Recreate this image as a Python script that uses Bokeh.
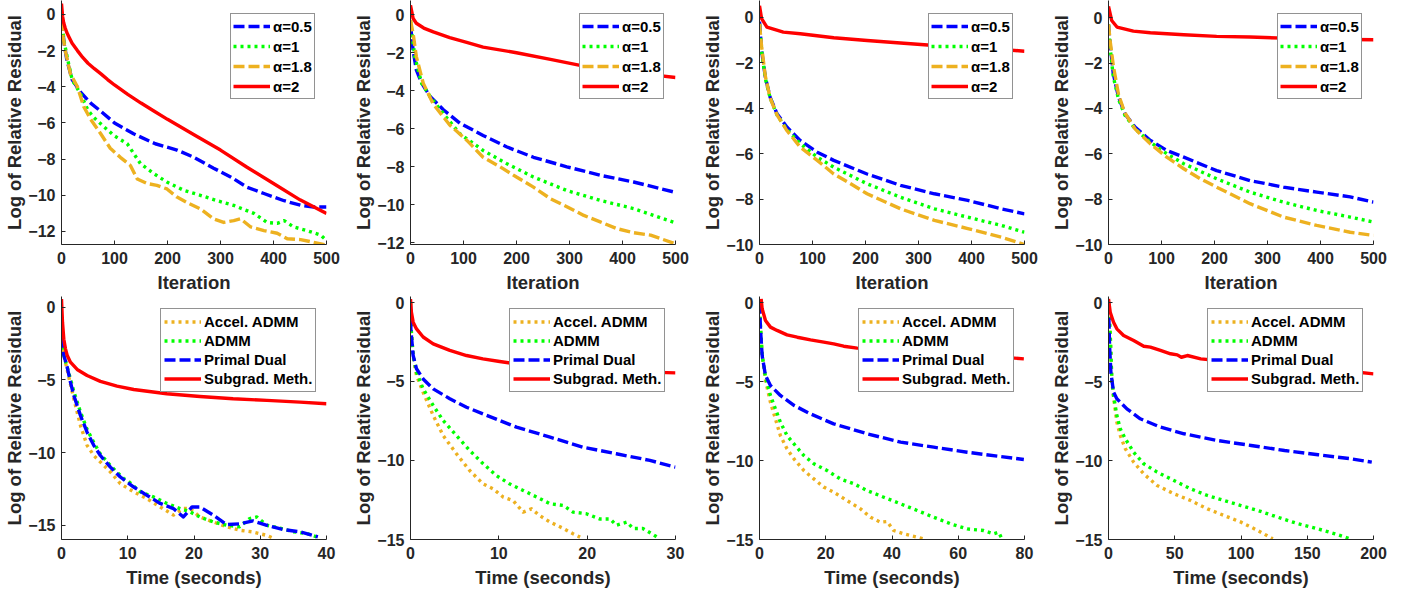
from bokeh.plotting import figure
from bokeh.layouts import column, row
from bokeh.models import Range1d, FixedTicker, Legend, LegendItem
from bokeh.embed import file_html
from bokeh.resources import INLINE

# ---------------- data ----------------
ALPHA_LABELS = ["\u03b1=0.5", "\u03b1=1", "\u03b1=1.8", "\u03b1=2"]
METHOD_LABELS = ["Accel. ADMM", "ADMM", "Primal Dual", "Subgrad. Meth."]

ITER_TICKS = [0, 100, 200, 300, 400, 500]
P1_YTICKS = [0, -2, -4, -6, -8, -10, -12]
P3_YTICKS = [0, -2, -4, -6, -8, -10]
TIME_YTICKS = [0, -5, -10, -15]
P5_XTICKS = [0, 10, 20, 30, 40]
P6_XTICKS = [0, 10, 20, 30]
P7_XTICKS = [0, 20, 40, 60, 80]
P8_XTICKS = [0, 50, 100, 150, 200]

# Panel 1 (iterations)
P1_A05 = [(0, -0.3), (2, -0.8), (5, -1.6), (10, -2.5), (20, -3.6), (36, -4.3), (55, -4.9), (74, -5.35), (100, -6.0),
          (136, -6.6), (177, -7.15), (218, -7.5), (250, -7.9), (287, -8.5), (320, -9.0), (350, -9.55), (382, -9.9),
          (420, -10.3), (451, -10.55), (476, -10.65), (500, -10.65)]
P1_A1 = [(0, -0.3), (1, -0.5), (5, -1.5), (11, -2.4), (20, -3.6), (36, -4.4), (50, -5.3), (61, -5.7), (74, -6.05),
         (99, -6.7), (124, -7.15), (149, -8.25), (174, -8.8), (199, -9.27), (231, -9.73), (262, -10.0), (294, -10.3),
         (325, -10.56), (363, -11.0), (388, -11.5), (407, -11.55), (420, -11.4), (438, -11.75), (463, -11.95),
         (489, -12.2), (500, -12.5)]
P1_A18 = [(0, -0.3), (3, -1.2), (7, -2.0), (17, -3.3), (30, -4.0), (42, -5.1), (55, -5.8), (74, -6.6), (92, -7.4),
          (111, -7.9), (130, -8.35), (143, -9.1), (162, -9.35), (180, -9.45), (199, -9.65), (218, -10.1), (237, -10.4),
          (262, -10.75), (287, -11.3), (306, -11.5), (325, -11.4), (338, -11.3), (357, -11.75), (382, -11.95),
          (407, -12.1), (426, -12.4), (451, -12.45), (476, -12.6), (500, -12.75)]
P1_A2 = [(0, 0.6), (2, -0.1), (4, -0.45), (7, -0.75), (10, -1.0), (15, -1.3), (20, -1.6), (30, -2.0), (40, -2.38),
         (50, -2.7), (62, -3.0), (75, -3.3), (87, -3.6), (100, -3.9), (125, -4.42), (150, -4.9), (175, -5.35),
         (200, -5.8), (250, -6.65), (300, -7.5), (350, -8.45), (400, -9.35), (450, -10.25), (500, -11.0)]

# Panel 2
P2_A05 = [(0, -0.5), (5, -1.9), (11, -2.9), (21, -3.6), (37, -4.3), (62, -5.0), (93, -5.7), (137, -6.35), (182, -6.96),
          (232, -7.5), (295, -8.0), (358, -8.45), (421, -8.8), (500, -9.35)]
P2_A1 = [(0, -0.3), (8, -2.2), (21, -3.6), (37, -4.3), (62, -5.2), (93, -6.26), (137, -7.14), (182, -7.84),
         (232, -8.54), (295, -9.25), (358, -9.77), (421, -10.2), (500, -10.95)]
P2_A18 = [(0, -0.3), (5, -1.0), (11, -2.2), (24, -3.6), (43, -4.7), (74, -5.8), (106, -6.6), (137, -7.5), (169, -8.0),
          (200, -8.54), (232, -9.07), (264, -9.68), (295, -10.1), (327, -10.56), (358, -10.9), (390, -11.26),
          (421, -11.47), (453, -11.6), (500, -12.05)]
P2_A2 = [(0, 0.5), (5, -0.2), (11, -0.45), (25, -0.7), (43, -0.9), (74, -1.2), (106, -1.45), (137, -1.7), (200, -2.0),
         (264, -2.35), (327, -2.7), (390, -2.95), (453, -3.15), (500, -3.3)]

# Panel 3
P3_A05 = [(0, -0.2), (4, -1.47), (11, -2.64), (20, -3.52), (33, -4.25), (52, -4.84), (77, -5.43), (109, -5.94),
          (140, -6.3), (203, -6.9), (266, -7.4), (330, -7.77), (393, -8.06), (456, -8.43), (500, -8.65)]
P3_A1 = [(0, -0.3), (4, -1.5), (11, -2.7), (20, -3.55), (33, -4.3), (52, -4.95), (77, -5.57), (109, -6.16),
         (140, -6.6), (203, -7.33), (266, -7.92), (330, -8.43), (393, -8.8), (456, -9.16), (500, -9.46)]
P3_A18 = [(0, -0.3), (4, -1.3), (11, -2.6), (20, -3.55), (33, -4.3), (52, -5.0), (77, -5.72), (109, -6.3),
          (140, -6.9), (172, -7.33), (203, -7.77), (266, -8.43), (330, -8.94), (393, -9.3), (456, -9.68), (500, -10.0)]
P3_A2 = [(0, 0.5), (4, -0.07), (14, -0.44), (45, -0.66), (77, -0.73), (140, -0.91), (203, -1.03), (266, -1.14),
         (330, -1.25), (393, -1.32), (456, -1.42), (500, -1.5)]

# Panel 4
P4_A05 = [(0, -0.3), (3, -1.15), (9, -2.47), (19, -3.5), (31, -4.24), (50, -4.82), (79, -5.41), (110, -5.85),
          (142, -6.15), (204, -6.74), (267, -7.18), (330, -7.47), (393, -7.69), (456, -7.9), (500, -8.13)]
P4_A1 = [(0, -0.3), (3, -1.3), (9, -2.6), (19, -3.6), (31, -4.3), (50, -4.9), (79, -5.49), (110, -6.0), (142, -6.44),
         (204, -7.1), (267, -7.69), (330, -8.13), (393, -8.5), (456, -8.79), (500, -9.01)]
P4_A18 = [(0, -0.3), (3, -1.0), (9, -2.1), (19, -3.4), (31, -4.2), (50, -4.9), (79, -5.56), (110, -6.15), (142, -6.66),
          (173, -7.1), (204, -7.47), (267, -8.2), (330, -8.79), (393, -9.16), (456, -9.46), (500, -9.6)]
P4_A2 = [(0, 0.5), (6, -0.12), (16, -0.41), (47, -0.59), (79, -0.66), (142, -0.75), (204, -0.82), (267, -0.85),
         (330, -0.9), (393, -0.93), (456, -0.96), (500, -0.97)]

# Panel 5 (time)
P5_ACC = [(0, -0.5), (0.1, -2.4), (0.35, -3.3), (0.85, -4.3), (1.86, -6.3), (2.86, -8.13), (3.86, -9.5), (4.87, -10.2),
          (5.87, -10.65), (7.38, -11.33), (8.88, -12.14), (10.9, -12.7), (12.9, -13.17), (14.9, -13.74),
          (16.9, -14.3), (18.4, -13.85), (19.4, -13.85), (20.9, -14.43), (22.9, -14.77), (24.9, -15.1),
          (26.9, -15.34), (28.9, -15.46), (31, -15.7), (32, -15.9)]
P5_ADMM = [(0, -0.8), (0.1, -2.4), (0.35, -3.3), (0.85, -4.1), (1.86, -5.8), (2.86, -7.2), (3.86, -8.4), (4.87, -9.3),
           (5.87, -10.1), (7.38, -10.9), (9.4, -11.8), (9.9, -11.9), (10.4, -12.1), (11.9, -12.7), (13.9, -13.05),
           (15.9, -13.5), (17.9, -13.85), (19.4, -14.08), (20.9, -14.43), (22.9, -14.77), (24.9, -15.0),
           (26.9, -15.1), (28.4, -14.54), (29.5, -14.43), (31, -15.0), (33, -15.2), (35, -15.45), (37, -15.57),
           (38.5, -15.8)]
P5_PD = [(0, -1.0), (0.1, -2.5), (0.35, -3.3), (0.85, -4.1), (1.35, -5.15), (1.86, -6.07), (2.86, -7.44), (3.86, -8.6),
         (4.87, -9.5), (5.87, -10.2), (7.38, -11.0), (8.88, -11.68), (10.9, -12.37), (12.9, -12.94), (14.9, -13.5),
         (16.9, -13.85), (18.4, -14.43), (19.7, -13.74), (20.9, -13.74), (22.9, -14.3), (24.9, -14.95),
         (26.9, -14.9), (28.9, -14.7), (31, -15.0), (33.5, -15.3), (36, -15.45), (38.7, -15.8)]
P5_SUB = [(0, 0.57), (0.15, -1.03), (0.35, -2.2), (0.6, -2.86), (0.85, -3.3), (1.35, -3.78), (2.36, -4.28),
          (3.86, -4.7), (5.87, -5.1), (8.38, -5.43), (10.9, -5.66), (15.9, -5.95), (20.9, -6.14), (25.9, -6.3),
          (31, -6.41), (36, -6.53), (40, -6.64)]

# Panel 6
P6_ACC = [(0, 0.0), (0.1, -1.9), (0.3, -3.4), (0.68, -4.63), (1.43, -5.7), (2.57, -7.16), (3.7, -8.43), (5.2, -9.58),
          (6.7, -10.64), (8.2, -11.48), (9.36, -11.8), (10.5, -12.32), (11.6, -12.53), (12.75, -13.27),
          (13.7, -13.06), (14.6, -13.48), (15.8, -13.9), (17.3, -14.3), (18.4, -14.64), (19.2, -14.85)]
P6_ADMM = [(0, 0.0), (0.1, -1.9), (0.3, -3.37), (0.68, -4.42), (1.43, -5.48), (2.57, -6.53), (3.7, -7.48),
           (5.2, -8.43), (6.7, -9.37), (8.2, -10.2), (9.7, -10.95), (11.2, -11.48), (12.75, -11.9), (14.3, -12.32),
           (15.8, -12.74), (17.3, -12.85), (18.4, -13.27), (19.9, -13.37), (21.4, -13.7), (22.6, -13.7),
           (23.3, -14.1), (24.5, -13.9), (25.2, -14.3), (26.3, -14.3), (27.5, -14.7), (28.2, -14.95)]
P6_PD = [(0, -0.2), (0.04, -1.7), (0.3, -3.37), (0.68, -4.21), (1.43, -4.85), (2.57, -5.48), (4.45, -6.1),
         (6.34, -6.64), (8.2, -7.06), (10.1, -7.48), (12, -7.9), (15.8, -8.53), (19.5, -9.16), (23.3, -9.58),
         (27.1, -10.0), (30, -10.43)]
P6_SUB = [(0, 0.2), (0.1, -0.63), (0.3, -1.26), (0.68, -1.69), (1.43, -2.2), (2.57, -2.63), (4.45, -3.05),
          (6.34, -3.37), (8.2, -3.58), (10.1, -3.75), (12, -3.9), (15.8, -4.1), (19.5, -4.26), (23.3, -4.36),
          (27.1, -4.42), (30, -4.47)]

# Panel 7
P7_ACC = [(0, 0.0), (0.3, -1.6), (0.8, -3.3), (1.8, -4.9), (3.3, -6.3), (4.8, -7.35), (6.3, -8.41), (8.3, -9.25),
          (10.4, -9.89), (13.4, -10.63), (16.4, -11.16), (19.4, -11.68), (22.4, -12.0), (26.4, -12.53),
          (30.5, -13.06), (33.5, -13.59), (36.5, -13.9), (38.5, -13.86), (40.5, -14.43), (43.6, -14.64),
          (47.6, -14.85), (49.6, -14.96)]
P7_ADMM = [(0, 0.0), (0.3, -1.5), (0.8, -3.3), (1.8, -4.7), (3.3, -5.87), (4.8, -6.72), (6.3, -7.56), (8.3, -8.41),
           (10.4, -8.94), (13.4, -9.68), (16.4, -10.2), (20.4, -10.63), (24.4, -11.16), (28.5, -11.47),
           (32.5, -11.9), (37.5, -12.32), (42.6, -12.74), (47.6, -13.16), (52.6, -13.59), (57.6, -14.0),
           (62.7, -14.33), (67.7, -14.43), (70.7, -14.64), (72.2, -14.54), (73.2, -14.96)]
P7_PD = [(0, 0.0), (0.3, -1.65), (0.8, -3.34), (1.8, -4.6), (3.3, -5.24), (6.3, -5.87), (10.4, -6.5), (15.4, -7.04),
         (22.4, -7.67), (32.5, -8.3), (42.6, -8.83), (52.6, -9.15), (62.7, -9.47), (72.7, -9.74), (79.8, -9.93)]
P7_SUB = [(0.5, 0.25), (0.8, -0.38), (1.8, -1.12), (3.3, -1.54), (5.3, -1.75), (8.3, -2.03), (11.4, -2.18),
          (15.4, -2.35), (19.4, -2.49), (22.4, -2.6), (25.4, -2.75), (29.5, -2.87), (34.5, -2.92), (42.6, -3.08),
          (52.6, -3.23), (62.7, -3.34), (72.7, -3.44), (79.8, -3.55)]

# Panel 8
P8_ACC = [(0, 0.0), (1.3, -2.0), (2.5, -4.9), (3.8, -6.0), (6.3, -7.56), (8.9, -8.41), (12.7, -9.25), (19, -10.1),
          (26.6, -10.84), (36.7, -11.58), (49.4, -12.1), (62, -12.53), (74.7, -13.06), (87.3, -13.48), (100, -13.9),
          (112.7, -14.43), (124, -14.96)]
P8_ADMM = [(0, 0.0), (1.3, -2.0), (2.5, -4.8), (3.8, -5.87), (6.3, -7.14), (8.9, -7.99), (12.7, -8.62), (19, -9.47),
           (26.6, -10.2), (36.7, -10.73), (49.4, -11.26), (62, -11.79), (74.7, -12.21), (87.3, -12.53),
           (100, -12.85), (112.7, -13.16), (127.8, -13.59), (143, -14.0), (158.2, -14.33), (170.9, -14.64),
           (182.3, -14.96)]
P8_PD = [(0, 0.0), (0.8, -2.7), (1.8, -4.4), (3.8, -5.66), (6.3, -6.08), (13.9, -6.72), (24, -7.35), (39.2, -7.88),
         (57, -8.3), (82.3, -8.73), (107.6, -9.04), (132.9, -9.36), (158.2, -9.63), (183.5, -9.89), (198.7, -10.1)]
P8_SUB = [(0, 0.25), (1.3, -0.6), (3.8, -1.23), (6.3, -1.65), (11.4, -2.07), (19, -2.39), (26.6, -2.75),
          (31.6, -2.81), (39.2, -3.02), (46.8, -3.23), (51.9, -3.3), (55, -3.45), (59.5, -3.34), (69.6, -3.55),
          (82.3, -3.66), (94.9, -3.76), (107.6, -3.87), (132.9, -4.08), (158.2, -4.23), (183.5, -4.35),
          (200, -4.5)]

# ---------------- styles ----------------
BLUE, GREEN, ORANGE, RED = "#0000FF", "#00FF00", "#EDB120", "#FF0000"
DASH, DOT = "11 4", "3 4"
AXIS_COL = "#262626"
FONT = "Liberation Sans"

TOP_STYLES = [(BLUE, DASH), (GREEN, DOT), (ORANGE, DASH), (RED, "solid")]
BOT_STYLES = [(ORANGE, DOT), (GREEN, DOT), (BLUE, DASH), (RED, "solid")]

LEFT = 61
BOTTOM = 52
FRAME_W = 265


def panel(xr, yr, xticks, yticks, xlabel, series, labels, styles, height, width, border_right,
          leg_xy, leg_pad, leg_lh):
    p = figure(width=width, height=height, output_backend="svg", toolbar_location=None,
               x_range=Range1d(*xr), y_range=Range1d(*yr),
               min_border_left=LEFT, min_border_right=border_right, min_border_top=0, min_border_bottom=BOTTOM)
    p.outline_line_color = None
    p.xgrid.visible = False
    p.ygrid.visible = False
    p.background_fill_color = "white"
    p.border_fill_color = "white"
    for ax in (p.xaxis[0], p.yaxis[0]):
        ax.axis_line_color = AXIS_COL
        ax.axis_line_width = 1
        ax.major_tick_in = 4
        ax.major_tick_out = 0
        ax.major_tick_line_color = AXIS_COL
        ax.minor_tick_line_color = None
        ax.major_label_text_font = FONT
        ax.major_label_text_font_style = "bold"
        ax.major_label_text_font_size = "16px"
        ax.major_label_text_color = AXIS_COL
        ax.axis_label_text_font = FONT
        ax.axis_label_text_font_style = "bold"
        ax.axis_label_text_font_size = "18.5px"
        ax.axis_label_text_color = AXIS_COL
    p.xaxis.ticker = FixedTicker(ticks=xticks)
    p.yaxis.ticker = FixedTicker(ticks=yticks)
    p.xaxis.axis_label = xlabel
    p.yaxis.axis_label = "Log of Relative Residual"
    p.xaxis.major_label_standoff = 7
    p.xaxis.axis_label_standoff = 5
    p.yaxis.major_label_standoff = 6
    p.yaxis.axis_label_standoff = 0

    items = []
    for pts, lab, (col, dash) in zip(series, labels, styles):
        xs = [a for a, b in pts]
        ys = [b for a, b in pts]
        r = p.line(xs, ys, line_color=col, line_width=3.4, line_dash=dash, line_join="round")
        items.append(LegendItem(label=lab, renderers=[r]))
    leg = Legend(items=items, location=leg_xy)
    leg.label_text_font = FONT
    leg.label_text_font_style = "bold"
    leg.label_text_font_size = "15px"
    leg.label_text_color = "black"
    leg.border_line_color = AXIS_COL
    leg.border_line_width = 1
    leg.background_fill_color = "white"
    leg.background_fill_alpha = 1
    leg.padding = leg_pad
    leg.spacing = 0
    leg.margin = 0
    leg.label_height = leg_lh
    leg.glyph_height = leg_lh
    leg.glyph_width = 37
    leg.label_standoff = 3
    p.add_layout(leg)
    return p


TOP_FRAME = 244
BOT_FRAME = 243
TOP_HEIGHT = TOP_FRAME + BOTTOM
BOT_HEIGHT = BOT_FRAME + BOTTOM
W = 349
W_LAST = LEFT + FRAME_W + 20
RIGHT = W - LEFT - FRAME_W
top_leg = (169, TOP_FRAME - 15 - 84)
bot_leg = (99, BOT_FRAME - 14 - 82)
ITER = "Iteration"
TIME = "Time (seconds)"

f1 = panel((0, 500), (-12.72, 0.77), ITER_TICKS, P1_YTICKS, ITER, [P1_A05, P1_A1, P1_A18, P1_A2],
           ALPHA_LABELS, TOP_STYLES, TOP_HEIGHT, W, RIGHT, top_leg, 2, 20)
f2 = panel((0, 500), (-12.09, 0.75), ITER_TICKS, P1_YTICKS, ITER, [P2_A05, P2_A1, P2_A18, P2_A2],
           ALPHA_LABELS, TOP_STYLES, TOP_HEIGHT, W, RIGHT, top_leg, 2, 20)
f3 = panel((0, 500), (-10.0, 0.73), ITER_TICKS, P3_YTICKS, ITER, [P3_A05, P3_A1, P3_A18, P3_A2],
           ALPHA_LABELS, TOP_STYLES, TOP_HEIGHT, W, RIGHT, top_leg, 2, 20)
f4 = panel((0, 500), (-10.0, 0.76), ITER_TICKS, P3_YTICKS, ITER, [P4_A05, P4_A1, P4_A18, P4_A2],
           ALPHA_LABELS, TOP_STYLES, TOP_HEIGHT, W_LAST, 20, top_leg, 2, 20)

f5 = panel((0, 40), (-15.98, 0.74), P5_XTICKS, TIME_YTICKS, TIME, [P5_ACC, P5_ADMM, P5_PD, P5_SUB],
           METHOD_LABELS, BOT_STYLES, BOT_HEIGHT, W, RIGHT, bot_leg, 3, 19)
f6 = panel((0, 30), (-15.0, 0.36), P6_XTICKS, TIME_YTICKS, TIME, [P6_ACC, P6_ADMM, P6_PD, P6_SUB],
           METHOD_LABELS, BOT_STYLES, BOT_HEIGHT, W, RIGHT, bot_leg, 3, 19)
f7 = panel((0, 80), (-15.0, 0.4), P7_XTICKS, TIME_YTICKS, TIME, [P7_ACC, P7_ADMM, P7_PD, P7_SUB],
           METHOD_LABELS, BOT_STYLES, BOT_HEIGHT, W, RIGHT, bot_leg, 3, 19)
f8 = panel((0, 200), (-15.0, 0.4), P8_XTICKS, TIME_YTICKS, TIME, [P8_ACC, P8_ADMM, P8_PD, P8_SUB],
           METHOD_LABELS, BOT_STYLES, BOT_HEIGHT, W_LAST, 20, bot_leg, 3, 19)

layout = column(row(f1, f2, f3, f4, spacing=0), row(f5, f6, f7, f8, spacing=0), spacing=0)
open("out.html", "w").write(file_html(layout, INLINE))
